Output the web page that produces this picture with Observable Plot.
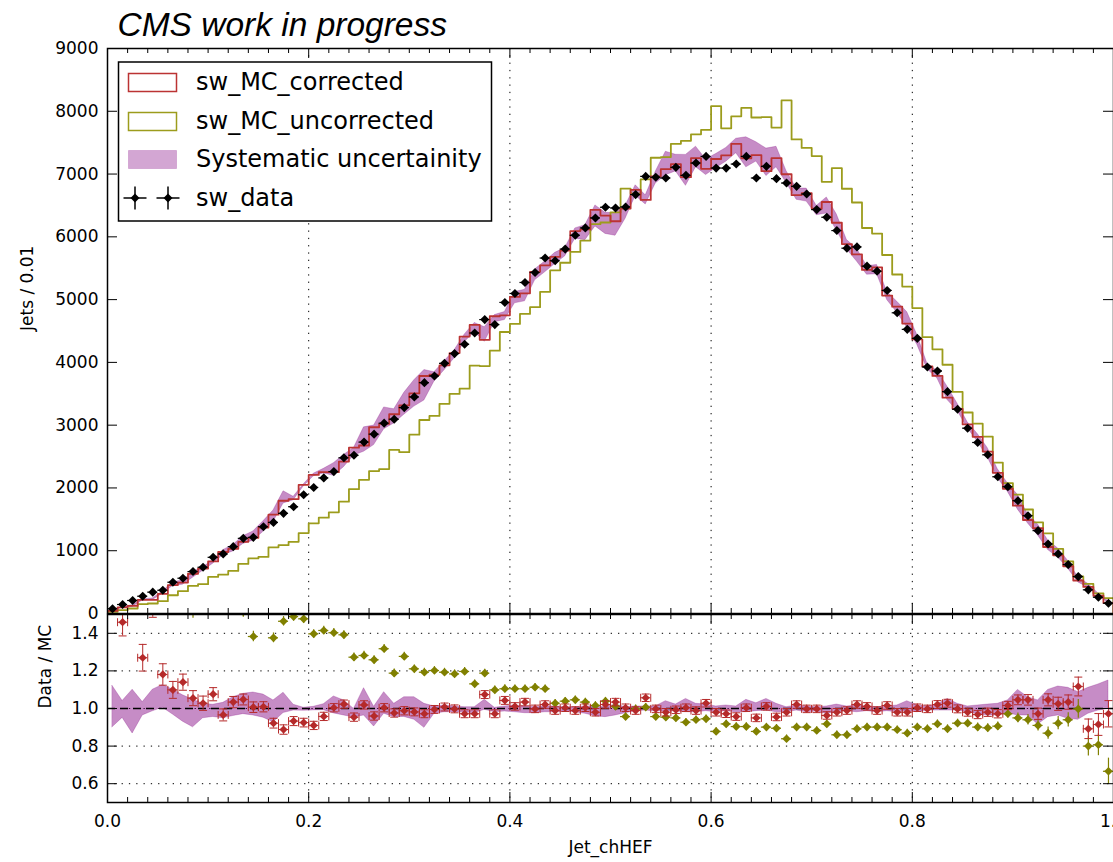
<!DOCTYPE html>
<html><head><meta charset="utf-8">
<script src="https://cdn.jsdelivr.net/npm/d3@7"></script>
<script src="https://cdn.jsdelivr.net/npm/@observablehq/plot@0.6"></script>
<style>
html,body{margin:0;padding:0;background:#fff;overflow:hidden;}
#wrap{position:relative;width:1113px;height:862px;}
#top,#bot{position:absolute;left:0;}
#top{top:0px;}
#bot{top:613px;}
svg{overflow:visible;}
</style></head><body>
<div id="wrap"><div id="top"></div><div id="bot"></div></div>
<script>
// ---------------- data ----------------
const nBins = 100;
const xMajor = [0, 0.2, 0.4, 0.6, 0.8, 1.0];
const gridX = [0.2, 0.4, 0.6, 0.8];
const yTicksTop = [0, 1000, 2000, 3000, 4000, 5000, 6000, 7000, 8000, 9000];
const yTicksRatio = [0.6, 0.8, 1.0, 1.2, 1.4];
const legendLabels = ["sw_MC_corrected", "sw_MC_uncorrected", "Systematic uncertainity", "sw_data"];

const dataCounts = [
  75,143,207,275,340,370,498,562,668,737,
  895,949,1065,1197,1213,1383,1451,1595,1701,1892,
  2008,2160,2260,2480,2520,2730,2857,3032,3095,3280,
  3450,3677,3784,3985,4140,4288,4468,4682,4602,4955,
  5098,5273,5432,5662,5619,5805,6025,6142,6301,6471,
  6460,6476,6673,6963,6948,6937,7107,6979,7175,7281,
  7095,7095,7159,7281,6937,7123,6927,6857,6804,6682,
  6434,6312,6100,5819,5840,5533,5453,5146,4790,4526,
  4383,3927,3863,3534,3254,2952,2724,2528,2178,2019,
  1797,1558,1320,1108,949,779,588,377,259,164];

const mcCorrected = [
  41,98,121,217,218,313,453,493,633,717,
  830,980,1030,1142,1205,1368,1574,1796,1823,2048,
  2207,2252,2251,2420,2642,2676,2967,3020,3174,3316,
  3506,3783,3803,3953,4148,4411,4597,4359,4735,4750,
  5042,5100,5443,5546,5682,5782,6092,6118,6430,6338,
  6248,6450,6747,6588,6962,7079,7157,6951,7255,7083,
  7240,7299,7481,7252,7302,7046,7253,6997,6664,6695,
  6447,6555,6224,5884,5720,5473,5514,5065,4888,4618,
  4366,3935,3784,3438,3260,3012,2814,2580,2241,1987,
  1718,1489,1358,1059,926,753,526,423,283,169];

const mcUncorrected = [
  25,53,80,148,159,196,291,355,440,467,
  583,620,678,790,877,901,1054,1089,1142,1281,
  1437,1527,1611,1782,1980,2129,2269,2300,2605,2569,
  2849,3082,3148,3340,3497,3582,3950,3941,4187,4484,
  4613,4772,4880,5124,5466,5587,5760,5940,6202,6228,
  6390,6767,6686,6915,7260,7271,7481,7529,7633,7705,
  8081,7729,7919,8054,7901,7906,7740,8173,7552,7416,
  7287,6876,7093,6766,6547,6141,6052,5711,5400,5208,
  4865,4402,4208,3962,3529,3202,3023,2818,2404,2077,
  1892,1657,1451,1275,1029,829,589,471,321,246];

const ratioCorrected = [
  1.83,1.459,1.71,1.27,1.56,1.181,1.099,1.14,1.055,1.028,
  1.076,0.966,1.034,1.048,1.007,1.009,0.922,0.888,0.933,0.925,
  0.910,0.958,1.004,1.023,0.954,1.019,0.960,1.004,0.976,0.988,
  0.982,0.972,0.995,1.008,0.998,0.972,0.972,1.074,0.972,1.043,
  1.011,1.034,0.998,1.021,0.989,1.004,0.989,1.004,0.980,1.021,
  1.034,1.004,0.989,1.057,0.998,0.980,0.993,1.004,0.989,1.028,
  0.980,0.972,0.957,1.004,0.950,1.011,0.955,0.980,1.021,0.998,
  0.998,0.963,0.980,0.989,1.021,1.011,0.989,1.016,0.980,0.980,
  1.004,0.998,1.021,1.028,0.998,0.980,0.968,0.980,0.972,1.016,
  1.046,1.046,0.972,1.046,1.025,1.034,1.117,0.892,0.915,0.972];

const ratioUncorrected = [
  3.0,2.70,2.59,1.86,2.14,1.87,1.71,1.58,1.52,1.58,
  1.535,1.53,1.57,1.515,1.383,1.535,1.376,1.464,1.489,1.477,
  1.397,1.415,1.403,1.392,1.273,1.282,1.259,1.318,1.188,1.277,
  1.211,1.193,1.202,1.193,1.184,1.197,1.131,1.188,1.099,1.105,
  1.105,1.105,1.113,1.105,1.028,1.039,1.046,1.034,1.016,1.039,
  1.011,0.957,0.998,1.007,0.957,0.954,0.950,0.927,0.940,0.945,
  0.878,0.918,0.904,0.904,0.878,0.901,0.895,0.839,0.901,0.901,
  0.883,0.918,0.860,0.860,0.892,0.901,0.901,0.901,0.887,0.869,
  0.901,0.892,0.918,0.892,0.922,0.922,0.901,0.897,0.906,0.972,
  0.950,0.940,0.910,0.869,0.922,0.940,0.998,0.800,0.807,0.666];

const ratioError = [
  0.12,0.073,0.09,0.071,0.075,0.057,0.045,0.043,0.040,0.038,
  0.035,0.032,0.030,0.029,0.028,0.027,0.026,0.025,0.024,0.023,
  0.022,0.022,0.022,0.022,0.022,0.022,0.022,0.022,0.022,0.022,
  0.021,0.021,0.021,0.021,0.021,0.021,0.021,0.021,0.021,0.021,
  0.020,0.020,0.020,0.020,0.020,0.020,0.020,0.020,0.020,0.020,
  0.020,0.020,0.020,0.020,0.020,0.020,0.020,0.020,0.020,0.020,
  0.020,0.020,0.020,0.020,0.020,0.020,0.020,0.020,0.020,0.020,
  0.020,0.020,0.020,0.020,0.020,0.020,0.020,0.020,0.020,0.020,
  0.020,0.020,0.021,0.021,0.021,0.021,0.022,0.022,0.022,0.022,
  0.026,0.028,0.030,0.032,0.035,0.038,0.050,0.052,0.058,0.070];

const sysHigh = [
  1.12,1.04,1.10,1.034,1.10,1.125,1.10,1.07,1.047,1.025,
  1.02,1.03,1.06,1.078,1.085,1.074,1.043,1.084,1.02,1.004,
  1.009,1.023,1.064,1.043,0.998,1.108,1.009,1.087,1.025,1.06,
  1.06,1.025,1.011,1.016,1.011,1.007,1.007,1.046,1.004,1.011,
  1.016,1.011,1.007,1.011,1.011,1.007,1.007,1.011,1.011,1.007,
  1.021,1.007,1.011,1.011,1.011,1.039,1.021,1.051,1.025,1.021,
  1.011,1.016,1.011,1.046,1.028,1.051,1.025,1.007,1.016,1.011,
  1.007,1.011,1.021,1.011,1.016,1.011,1.007,1.011,1.016,1.039,
  1.016,1.011,1.021,1.051,1.025,1.011,1.016,1.021,1.025,1.043,
  1.099,1.060,1.043,1.099,1.117,1.110,1.087,1.110,1.128,1.149];

const sysLow = [
  0.90,0.95,0.867,0.963,0.985,1.004,0.968,0.93,0.90,0.948,
  0.955,0.948,0.96,0.97,0.963,0.951,0.927,0.976,0.989,0.988,
  0.99,0.991,0.974,0.963,0.952,0.963,0.904,0.972,0.954,0.955,
  0.94,0.897,0.972,0.98,0.980,0.980,0.975,0.993,0.980,0.984,
  0.980,0.975,0.975,0.980,0.980,0.984,0.980,0.972,0.959,0.954,
  0.963,0.975,0.986,0.989,0.984,0.986,0.984,0.980,0.980,0.986,
  0.980,0.986,0.980,0.980,0.986,0.989,0.980,0.980,0.989,0.980,
  0.984,0.972,0.980,0.986,0.980,0.986,0.980,0.986,0.980,0.986,
  0.980,0.989,0.989,0.989,0.989,0.980,0.972,0.963,0.963,0.975,
  0.963,0.963,0.915,0.954,0.963,0.945,0.940,0.972,0.989,0.998];

// ---------------- tables built from the arrays ----------------
const edges = d3.range(nBins + 1).map(i => i / nBins);
const centers = d3.range(nBins).map(i => (i + 0.5) / nBins);
const xMinor = d3.range(1, 50).map(i => i / 50).filter(v => Math.abs(v * 5 - Math.round(v * 5)) > 1e-9);

function stepRows(vals) {
  const pts = [{x: edges[0], y: 0}];
  vals.forEach((v, i) => { pts.push({x: edges[i], y: v}); pts.push({x: edges[i + 1], y: v}); });
  pts.push({x: edges[nBins], y: 0});
  return pts;
}
const dataRows = centers.map((x, i) => ({x, xl: edges[i], xh: edges[i + 1], y: dataCounts[i]}));
const bandTop = centers.map((x, i) => ({x, lo: mcCorrected[i] * sysLow[i], hi: mcCorrected[i] * sysHigh[i]}));
const bandRatio = centers.map((x, i) => ({x, lo: sysLow[i], hi: sysHigh[i]}));
const corrRows = centers.map((x, i) => ({x, xl: edges[i], xh: edges[i + 1], y: ratioCorrected[i],
  lo: ratioCorrected[i] - ratioError[i], hi: ratioCorrected[i] + ratioError[i]}));
const uncRows = centers.map((x, i) => ({x, xl: edges[i], xh: edges[i + 1], y: ratioUncorrected[i],
  lo: ratioUncorrected[i] - ratioError[i], hi: ratioUncorrected[i] + ratioError[i]}));

// ---------------- styles ----------------
const RED = "#b52a2a", REDLINE = "#bb3333", OLIVE = "#808000", OLIVELINE = "#9c9c1c", PURPLE = "#800080";
const W = 1113, ML = 107;
const FW = W - ML;
const TOPH = 614, TOPMT = 48, TOPMB = 1, TOPFH = TOPH - TOPMT - TOPMB;
const BOTH = 249, BOTMT = 1, BOTMB = 60, BOTFH = BOTH - BOTMT - BOTMB;
const MAJ = 10, MIN = 5;
const font = "DejaVu Sans";
const hcap = {draw(ctx) { ctx.moveTo(-4, 0); ctx.lineTo(4, 0); }};
const vcap = {draw(ctx) { ctx.moveTo(0, -4); ctx.lineTo(0, 4); }};

function tickMarks(fh, yTicks) {
  return [
    Plot.ruleX(xMajor, {stroke: "#000", insetTop: fh - MAJ}),
    Plot.ruleX(xMajor, {stroke: "#000", insetBottom: fh - MAJ}),
    Plot.ruleX(xMinor, {stroke: "#000", insetTop: fh - MIN}),
    Plot.ruleX(xMinor, {stroke: "#000", insetBottom: fh - MIN}),
    Plot.ruleY(yTicks, {stroke: "#000", insetRight: FW - MAJ}),
    Plot.ruleY(yTicks, {stroke: "#000", insetLeft: FW - MAJ})
  ];
}

// ---------------- top panel ----------------
const topChart = Plot.plot({
  width: W, height: TOPH, marginLeft: ML, marginRight: 0, marginTop: TOPMT, marginBottom: TOPMB,
  style: {fontFamily: font, fontSize: "17px", background: "white", overflow: "visible", color: "#000"},
  x: {domain: [0, 1], axis: null},
  y: {domain: [0, 9000], axis: null},
  marks: [
    Plot.ruleX(gridX, {stroke: "#000", strokeWidth: 1, strokeDasharray: "1.3,6"}),
    Plot.areaY(bandTop, {x: "x", y1: "lo", y2: "hi", fill: PURPLE, fillOpacity: 0.45, stroke: PURPLE, strokeOpacity: 0.25, clip: true}),
    Plot.line(stepRows(mcUncorrected), {x: "x", y: "y", stroke: OLIVELINE, strokeWidth: 1.8, clip: true}),
    Plot.line(stepRows(mcCorrected), {x: "x", y: "y", stroke: REDLINE, strokeWidth: 1.8, clip: true}),
    Plot.ruleY(dataRows, {x1: "xl", x2: "xh", y: "y", stroke: "#000", strokeWidth: 1.2, clip: true}),
    Plot.dot(dataRows, {x: "x", y: "y", symbol: "diamond2", r: 4.1, fill: "#000", stroke: null, clip: true}),
    ...tickMarks(TOPFH, yTicksTop),
    Plot.axisY(yTicksTop, {tickSize: 0, tickPadding: 9, tickFormat: "d", label: null, fontSize: 17}),
    Plot.frame({stroke: "#000", strokeWidth: 1.5}),
    Plot.text(["Jets / 0.01"], {frameAnchor: "left", dx: -80, rotate: -90, fontSize: 17, lineAnchor: "middle"}),
    Plot.text(["CMS work in progress"], {frameAnchor: "top-left", dx: 10, dy: -23, textAnchor: "start", lineAnchor: "middle",
      fontSize: 33.5, fontStyle: "italic", fontFamily: "Liberation Sans"})
  ]
});
document.getElementById("top").appendChild(topChart);

// legend (drawn on top of the top panel)
const L = d3.select(topChart).append("g").attr("font-family", font).attr("font-size", 24)
  .attr("fill", "#000").attr("text-anchor", "start");
L.append("rect").attr("x", 118.5).attr("y", 62).attr("width", 373).attr("height", 159)
  .attr("fill", "#fff").attr("stroke", "#000").attr("stroke-width", 1.5);
const rowBase = [90, 129, 167, 205.5];
L.append("rect").attr("x", 128.5).attr("y", 73.5).attr("width", 48).attr("height", 18)
  .attr("fill", "#fff").attr("stroke", REDLINE).attr("stroke-width", 1.5);
L.append("rect").attr("x", 128.5).attr("y", 112.5).attr("width", 48).attr("height", 18)
  .attr("fill", "#fff").attr("stroke", OLIVELINE).attr("stroke-width", 1.5);
L.append("rect").attr("x", 128.5).attr("y", 150.5).attr("width", 48).attr("height", 18)
  .attr("fill", PURPLE).attr("fill-opacity", 0.35).attr("stroke", PURPLE).attr("stroke-opacity", 0.2);
[135, 168].forEach(cx => {
  L.append("line").attr("x1", cx - 11.5).attr("x2", cx + 11.5).attr("y1", 198).attr("y2", 198).attr("stroke", "#000").attr("stroke-width", 1.5);
  L.append("line").attr("x1", cx).attr("x2", cx).attr("y1", 186.5).attr("y2", 209.5).attr("stroke", "#000").attr("stroke-width", 1.5);
  L.append("path").attr("d", `M${cx},${198 - 4.5}L${cx + 4.5},198L${cx},${198 + 4.5}L${cx - 4.5},198Z`).attr("fill", "#000");
});
legendLabels.forEach((t, i) => L.append("text").attr("x", 196).attr("y", rowBase[i]).attr("text-anchor", "start").text(t));

// ---------------- ratio panel ----------------
const botChart = Plot.plot({
  width: W, height: BOTH, marginLeft: ML, marginRight: 0, marginTop: BOTMT, marginBottom: BOTMB,
  style: {fontFamily: font, fontSize: "17px", background: "transparent", overflow: "visible", color: "#000"},
  x: {domain: [0, 1], axis: null},
  y: {domain: [0.5, 1.5], axis: null},
  marks: [
    Plot.ruleX(gridX, {stroke: "#000", strokeWidth: 1, strokeDasharray: "1.3,6"}),
    Plot.ruleY(yTicksRatio, {stroke: "#000", strokeWidth: 1, strokeDasharray: "1.3,6"}),
    Plot.areaY(bandRatio, {x: "x", y1: "lo", y2: "hi", fill: PURPLE, fillOpacity: 0.45, stroke: PURPLE, strokeOpacity: 0.25, clip: true}),
    Plot.ruleY([1], {stroke: "#000", strokeWidth: 1.5, strokeDasharray: "8,5"}),
    Plot.ruleY(uncRows, {x1: "xl", x2: "xh", y: "y", stroke: OLIVE, strokeWidth: 1.2, clip: true}),
    Plot.ruleX(uncRows, {x: "x", y1: "lo", y2: "hi", stroke: OLIVE, strokeWidth: 1.2, clip: true}),
    Plot.dot(uncRows, {x: "x", y: "y", symbol: "diamond2", r: 3.9, fill: OLIVE, stroke: null, clip: true}),
    Plot.ruleY(corrRows, {x1: "xl", x2: "xh", y: "y", stroke: RED, strokeWidth: 1, clip: true}),
    Plot.ruleX(corrRows, {x: "x", y1: "lo", y2: "hi", stroke: RED, strokeWidth: 1, clip: true}),
    Plot.dot(corrRows, {x: "x", y: "lo", symbol: hcap, stroke: RED, fill: "none", strokeWidth: 1, clip: true}),
    Plot.dot(corrRows, {x: "x", y: "hi", symbol: hcap, stroke: RED, fill: "none", strokeWidth: 1, clip: true}),
    Plot.dot(corrRows, {x: "xl", y: "y", symbol: vcap, stroke: RED, fill: "none", strokeWidth: 1, clip: true}),
    Plot.dot(corrRows, {x: "xh", y: "y", symbol: vcap, stroke: RED, fill: "none", strokeWidth: 1, clip: true}),
    Plot.dot(corrRows, {x: "x", y: "y", symbol: "diamond2", r: 3.7, fill: RED, stroke: null, clip: true}),
    ...tickMarks(BOTFH, yTicksRatio),
    Plot.axisY(yTicksRatio, {tickSize: 0, tickPadding: 9, tickFormat: ".1f", label: null, fontSize: 17}),
    Plot.axisX(xMajor, {anchor: "bottom", tickSize: 0, tickPadding: 12, tickFormat: ".1f", label: null, fontSize: 17}),
    Plot.frame({stroke: "#000", strokeWidth: 1.5}),
    Plot.text(["Data / MC"], {frameAnchor: "left", dx: -62, rotate: -90, fontSize: 17, lineAnchor: "middle"}),
    Plot.text(["Jet_chHEF"], {frameAnchor: "bottom", dy: 45, fontSize: 17, lineAnchor: "middle"})
  ]
});
document.getElementById("bot").appendChild(botChart);
</script>
</body></html>
